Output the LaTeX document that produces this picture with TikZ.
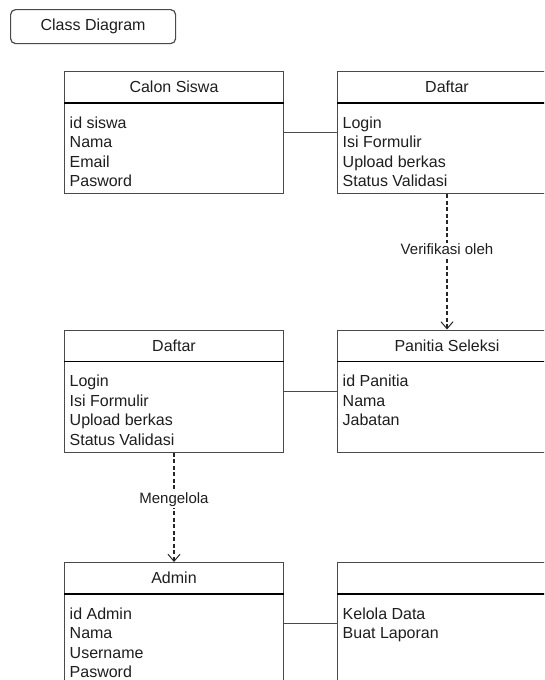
\documentclass[tikz,border=0pt]{standalone}
\usepackage{fontspec}
\setmainfont{Liberation Sans}
\usetikzlibrary{arrows.meta}
\definecolor{bordergray}{HTML}{4A4A4A}
\definecolor{txt}{HTML}{1E1E1E}
\tikzset{
  classbox/.style={draw=bordergray, line width=1pt, rectangle, anchor=north west,
    minimum width=219pt, minimum height=122pt, inner sep=0pt},
  sepline/.style={draw=black, line width=1.8pt},
  classtitle/.style={font=\fontsize{16}{19}\selectfont, text=txt, anchor=base, inner sep=0pt},
  attr/.style={font=\fontsize{16}{19}\selectfont, text=txt, anchor=base west, inner sep=0pt},
  assoc/.style={draw=bordergray, line width=1pt},
  depend/.style={draw=black!85, line width=1.3pt, dash pattern=on 4pt off 2.5pt,
    -{Straight Barb[length=7pt,width=12pt,line width=1pt]}},
  lbl/.style={font=\fontsize{15}{18}\selectfont, text=txt, fill=white, inner sep=1.5pt},
  framebox/.style={draw=bordergray, line width=1.2pt, rounded corners=5pt, anchor=north west,
    minimum width=165pt, minimum height=34pt, inner sep=0pt,
    font=\fontsize{16}{19}\selectfont, text=txt}
}
\newcommand\umlclass[5]{%
  \node[classbox] (#1) at (#2,#3) {};
  \draw[sepline] ([yshift=-32pt]#1.north west) -- ([yshift=-32pt]#1.north east);
  \node[classtitle] (#1-t) at ([yshift=-21.5pt]#1.north) {#4};
  \foreach \a [count=\i] in {#5} {
    \node[attr] (#1-\i) at ([xshift=5.5pt,yshift={-57pt-19.6pt*(\i-1)}]#1.north west) {\a};
  }%
}
\begin{document}
\begin{tikzpicture}[x=1pt,y=-1pt]
  \useasboundingbox (0,0) rectangle (544,680);
  \clip (0,0) rectangle (544,680);
  \fill[white] (0,0) rectangle (544,680);

  \node[framebox] (cd) at (10,9) {Class Diagram};

  \umlclass{cs}{64}{71}{Calon Siswa}{id siswa,Nama,Email,Pasword}
  \umlclass{dfa}{337}{71}{Daftar}{Login,Isi Formulir,Upload berkas,Status Validasi}
  \umlclass{dfb}{64}{329.5}{Daftar}{Login,Isi Formulir,Upload berkas,Status Validasi}
  \umlclass{ps}{337}{329.5}{Panitia Seleksi}{id Panitia,Nama,Jabatan}
  \umlclass{ad}{64}{562}{Admin}{id Admin,Nama,Username,Pasword}
  \umlclass{op}{337}{562}{}{Kelola Data,Buat Laporan}

  \draw[assoc] (cs.east) -- (dfa.west);
  \draw[assoc] (dfb.east) -- (ps.west);
  \draw[assoc] (ad.east) -- (op.west);

  \draw[depend] (dfa.south) -- node[lbl, pos=0.41] (v1) {Verifikasi oleh} (ps.north);
  \draw[depend] (dfb.south) -- node[lbl, pos=0.43] (v2) {Mengelola} (ad.north);
\end{tikzpicture}
\end{document}
